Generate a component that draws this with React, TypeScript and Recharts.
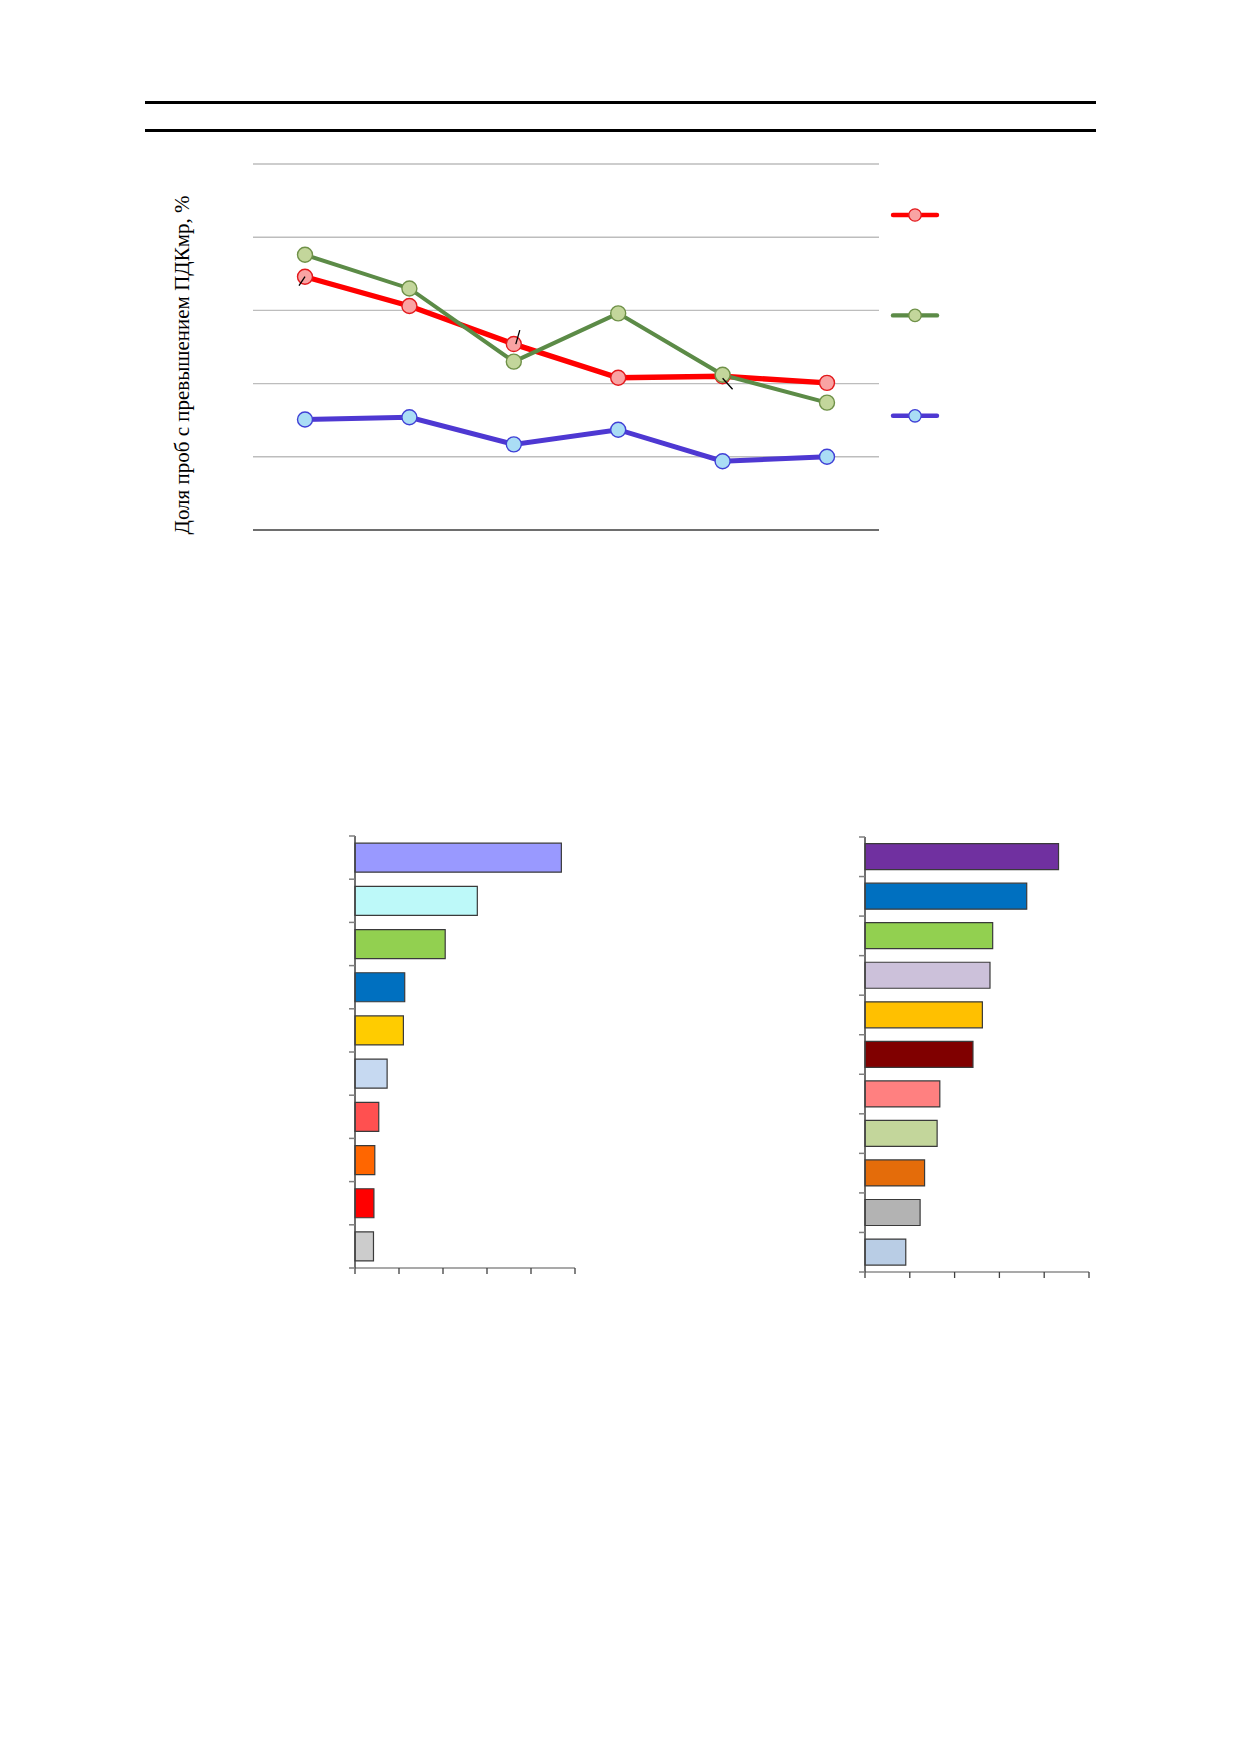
import { Bar, BarChart, CartesianGrid, Cell, Legend, Line, LineChart, XAxis, YAxis } from "recharts";

// line chart: share of samples above the limit, 6 periods
const periods = ["1", "2", "3", "4", "5", "6"];
const redValues = [34.6, 30.6, 25.4, 20.8, 21.0, 20.1];
const greenValues = [37.6, 33.0, 23.0, 29.6, 21.2, 17.4];
const blueValues = [15.1, 15.4, 11.7, 13.7, 9.4, 10.0];
const lineTicks = [0, 10, 20, 30, 40, 50];

// left bar chart
const leftNames = ["1", "2", "3", "4", "5", "6", "7", "8", "9", "10"];
const leftValues = [46.9, 27.8, 20.5, 11.3, 11.0, 7.3, 5.4, 4.5, 4.3, 4.2];
const leftColors = ["#9999FF", "#BDF9F9", "#92D050", "#0070C0", "#FFCC00", "#C6D9F1", "#FF5050", "#FF6600", "#FF0000", "#CCCCCC"];

// right bar chart
const rightNames = ["1", "2", "3", "4", "5", "6", "7", "8", "9", "10", "11"];
const rightValues = [43.2, 36.1, 28.5, 27.9, 26.2, 24.1, 16.7, 16.1, 13.3, 12.3, 9.1];
const rightColors = ["#7030A0", "#0070C0", "#92D050", "#CCC1DA", "#FFC000", "#800000", "#FF8080", "#C3D69B", "#E46C0A", "#B3B3B3", "#B9CDE5"];

const barTicks = [0, 10, 20, 30, 40, 50];

const lineData = periods.map((p, i) => ({ period: p, red: redValues[i], green: greenValues[i], blue: blueValues[i] }));
const leftData = leftNames.map((n, i) => ({ name: n, value: leftValues[i] }));
const rightData = rightNames.map((n, i) => ({ name: n, value: rightValues[i] }));

const series = [
    { key: "red", line: "#FF0000", width: 5.4, dotFill: "#F9A3A3", dotStroke: "#E3191C" },
    { key: "green", line: "#5C8B47", width: 4, dotFill: "#C3D69B", dotStroke: "#6F9148" },
    { key: "blue", line: "#4E38D2", width: 5, dotFill: "#AADDF5", dotStroke: "#4040D6" },
];

// little leader strokes left over from data labels (dx1, dy1, dx2, dy2 from the point)
const leaders: Record<number, number[]> = { 0: [0, 0, -6, 9], 2: [2, 0, 6, -14], 4: [0, 2, 10, 13] };

const LeaderMark = (props: any) => {
    const l = leaders[props.index];
    if (!l) return null;
    return <line x1={props.x + l[0]} y1={props.y + l[1]} x2={props.x + l[2]} y2={props.y + l[3]} stroke="#000" strokeWidth={1.3} />;
};

const LineLegend = () => (
    <svg width={54} height={220}>
        {series.map((s, i) => (
            <g key={s.key}>
                <line x1={5} x2={49} y1={10 + i * 100.4} y2={10 + i * 100.4} stroke={s.line} strokeWidth={4.4} strokeLinecap="round" />
                <circle cx={27} cy={10 + i * 100.4} r={6.2} fill={s.dotFill} stroke={s.dotStroke} strokeWidth={1.3} />
            </g>
        ))}
    </svg>
);

const NoLabel = () => <g />;

// tick marks between categories, like the original
const BoundaryTick = (props: any) => {
    const { x, y, payload, index, visibleTicksCount } = props;
    const off = payload?.offset ?? 0;
    const last = index === visibleTicksCount - 1;
    return (
        <g>
            <line x1={x - 6} x2={x} y1={y - off} y2={y - off} stroke="#7F7F7F" strokeWidth={1.5} />
            {last && <line x1={x - 6} x2={x} y1={y + off} y2={y + off} stroke="#7F7F7F" strokeWidth={1.5} />}
        </g>
    );
};

function HBars({ data, colors, width, height, margin, gap }: any) {
    return (
        <BarChart layout="vertical" width={width} height={height} data={data} margin={margin} barCategoryGap={gap}>
            <XAxis type="number" domain={[0, 50]} ticks={barTicks} tick={<NoLabel />} height={10}
                axisLine={{ stroke: "#8C8C8C", strokeWidth: 1.5 }} tickLine={{ stroke: "#404040", strokeWidth: 1.3 }} tickSize={6} />
            <YAxis type="category" dataKey="name" width={10} tickSize={0} tickMargin={0} tickLine={false}
                axisLine={{ stroke: "#404040", strokeWidth: 1.5 }} tick={<BoundaryTick />} interval={0} />
            <Bar dataKey="value" isAnimationActive={false} stroke="#3A3A3A" strokeWidth={1.2}>
                {data.map((d: any, i: number) => <Cell key={d.name} fill={colors[i]} />)}
            </Bar>
        </BarChart>
    );
}

export default function App() {
    return (
        <div style={{ position: "absolute", left: 0, top: 0, width: 1239, height: 1752, background: "#fff" }}>
            <div style={{ position: "absolute", left: 145, top: 100.5, width: 951, height: 3, background: "#000" }} />
            <div style={{ position: "absolute", left: 145, top: 128.5, width: 951, height: 3, background: "#000" }} />

            <div style={{
                position: "absolute", left: -18, top: 353, width: 400, lineHeight: "24px", textAlign: "center",
                transform: "rotate(-90deg)", fontFamily: "'Liberation Serif', serif", fontSize: 21, color: "#000",
            }}>
                Доля проб с превышением ПДКмр, %
            </div>

            <div style={{ position: "absolute", left: 150, top: 140 }}>
                <LineChart width={850} height={420} data={lineData} margin={{ top: 24, right: 121, bottom: 29, left: 102 }}>
                    <CartesianGrid vertical={false} stroke="#BDBDBD" strokeWidth={1.4} />
                    <XAxis dataKey="period" tick={false} tickLine={false} height={1} padding={{ left: 52, right: 52 }}
                        axisLine={{ stroke: "#6E6E6E", strokeWidth: 1.8 }} />
                    <YAxis domain={[0, 50]} ticks={lineTicks} interval={0} width={1} tick={<NoLabel />} tickLine={false} axisLine={false} />
                    {series.map((s) => (
                        <Line key={s.key} dataKey={s.key} type="linear" stroke={s.line} strokeWidth={s.width}
                            dot={{ r: 7.5, fill: s.dotFill, stroke: s.dotStroke, strokeWidth: 1.4 }} activeDot={false}
                            isAnimationActive={false} label={s.key === "red" ? <LeaderMark /> : undefined} />
                    ))}
                    <Legend layout="vertical" align="center" verticalAlign="middle" content={<LineLegend />}
                        wrapperStyle={{ position: "absolute", left: 738, top: 65, width: 54, height: 220 }} />
                </LineChart>
            </div>

            <div style={{ position: "absolute", left: 300, top: 820 }}>
                <HBars data={leftData} colors={leftColors} width={300} height={470}
                    margin={{ top: 16, right: 25, bottom: 12, left: 45 }} gap="16.5%" />
            </div>

            <div style={{ position: "absolute", left: 820, top: 820 }}>
                <HBars data={rightData} colors={rightColors} width={300} height={475}
                    margin={{ top: 17, right: 31, bottom: 13, left: 35 }} gap="16.7%" />
            </div>
        </div>
    );
}
